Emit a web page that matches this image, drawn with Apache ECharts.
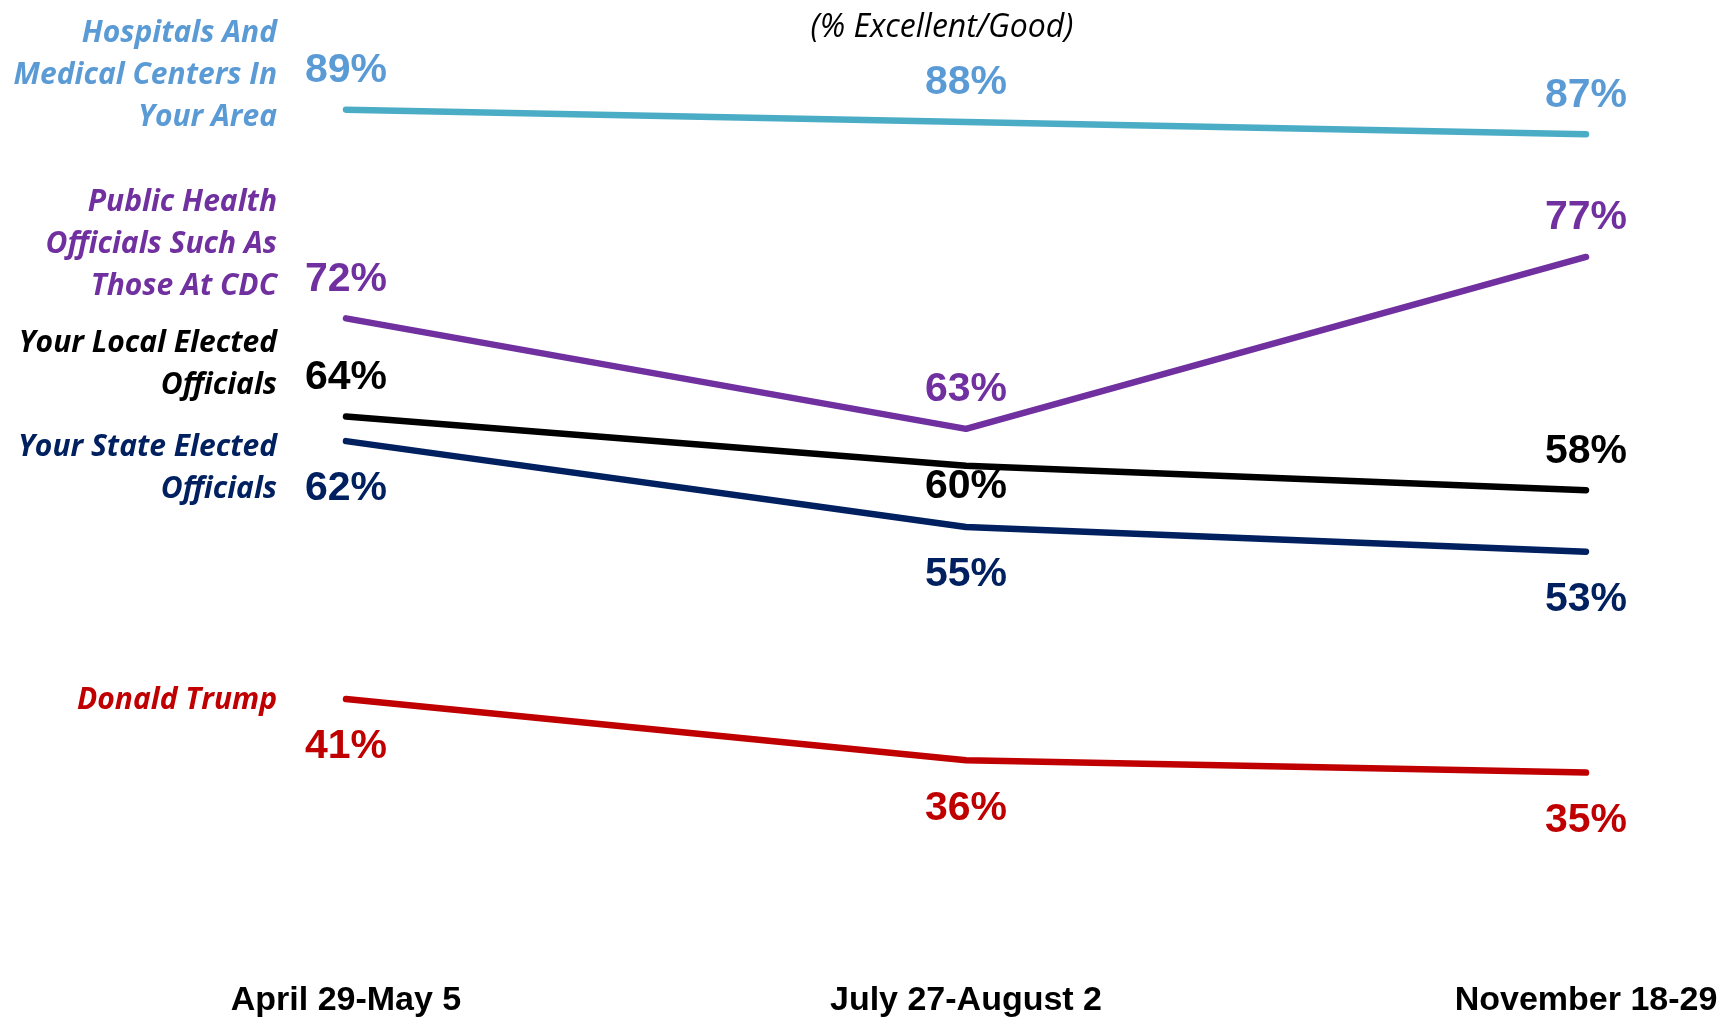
<!DOCTYPE html>
<html>
<head>
<meta charset="utf-8">
<script src="https://cdn.jsdelivr.net/npm/echarts@6/dist/echarts.min.js"></script>
<style>
  html, body { margin: 0; padding: 0; background: #fff; }
  #chart { width: 1722px; height: 1018px; }
</style>
</head>
<body>
<div id="chart"></div>
<script>
const dates = ['April 29-May 5', 'July 27-August 2', 'November 18-29']
const hospitals = [89, 88, 87]
const publicHealth = [72, 63, 77]
const localOfficials = [64, 60, 58]
const stateOfficials = [62, 55, 53]
const trump = [41, 36, 35]

const valueFont = 'Liberation Sans, Arial, sans-serif'
const nameFont = 'Open Sans, sans-serif'

// label above (top) or below (bottom) each point, with distance
function points (values, places, color) {
  return values.map((v, i) => ({
    value: v,
    label: {
      show: true,
      position: places[i][0],
      distance: places[i][1],
      formatter: '{c}%',
      color: color,
      fontFamily: valueFont,
      fontWeight: 'bold',
      fontSize: 41
    }
  }))
}

function makeSeries (name, values, lineColor, labelColor, places, nameOffset) {
  return {
    name: name,
    type: 'line',
    symbol: 'circle',
    symbolSize: 1,
    itemStyle: { color: lineColor },
    lineStyle: { color: lineColor, width: 6.5, cap: 'round', join: 'round' },
    data: points(values, places, labelColor),
    markPoint: {
      symbol: 'circle',
      symbolSize: 0,
      data: [{ coord: [0, values[0]] }],
      label: {
        show: true,
        position: 'left',
        distance: 0,
        offset: nameOffset,
        formatter: name,
        align: 'right',
        color: labelColor,
        fontFamily: nameFont,
        fontStyle: 'italic',
        fontWeight: 'bold',
        fontSize: 30,
        lineHeight: 42
      }
    }
  }
}

const up = ['top', 18]
const down = ['bottom', 27]

const chart = echarts.init(document.getElementById('chart'))
chart.setOption({
  animation: false,
  title: {
    text: '(% Excellent/Good)',
    left: 937,
    textAlign: 'center',
    top: 7,
    textStyle: { fontFamily: nameFont, fontStyle: 'italic', fontWeight: 'normal', fontSize: 32, color: '#000' }
  },
  grid: { left: 346, right: 136, top: 36, bottom: 182 },
  xAxis: {
    type: 'category',
    boundaryGap: false,
    data: dates,
    axisLine: { show: false },
    axisTick: { show: false },
    axisLabel: {
      margin: 150,
      color: '#000',
      fontFamily: valueFont,
      fontWeight: 'bold',
      fontSize: 34
    }
  },
  yAxis: { type: 'value', min: 30, max: 95, show: false, splitLine: { show: false } },
  series: [
    makeSeries('Hospitals And\nMedical Centers In\nYour Area', hospitals, '#4BACC6', '#5B9BD5',
      [up, up, up], [-69, -34]),
    makeSeries('Public Health\nOfficials Such As\nThose At CDC', publicHealth, '#7030A0', '#7030A0',
      [up, up, up], [-69, -74]),
    makeSeries('Your Local Elected\nOfficials', localOfficials, '#000000', '#000000',
      [up, ['bottom', 0], up], [-69, -52]),
    makeSeries('Your State Elected\nOfficials', stateOfficials, '#002060', '#002060',
      [down, down, down], [-69, 27]),
    makeSeries('Donald Trump', trump, '#C00000', '#C00000',
      [down, down, down], [-69, 1])
  ]
})
</script>
</body>
</html>
